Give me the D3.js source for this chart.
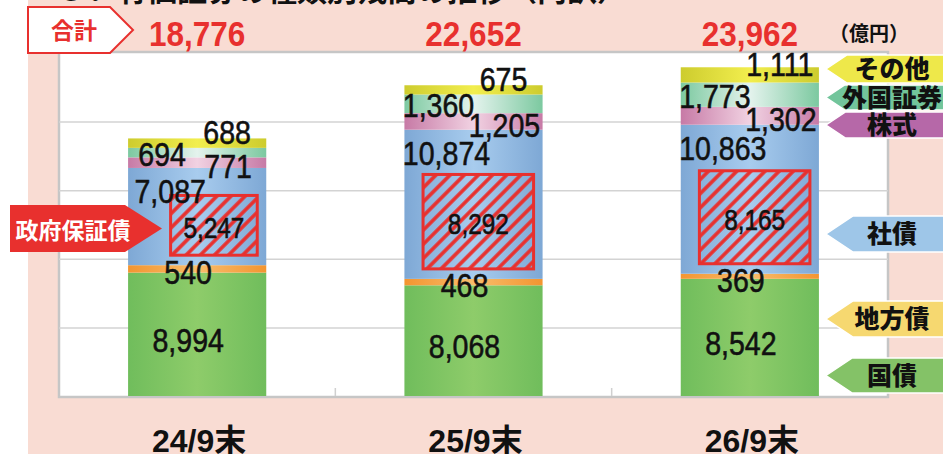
<!DOCTYPE html>
<html><head><meta charset="utf-8">
<script src="https://cdn.jsdelivr.net/npm/d3@7"></script>
<style>
html,body{margin:0;padding:0;background:#fff;}
svg{display:block;}
</style></head>
<body>
<svg id="c" width="943" height="454"></svg>
<script>
// ---------- data ----------
const categories = ["24/9末", "25/9末", "26/9末"];
const seriesNames = ["国債", "地方債", "社債", "株式", "外国証券", "その他"];
const kokusai   = [8994, 8068, 8542];
const chihousai = [540, 468, 369];
const shasai    = [7087, 10874, 10863];
const kabushiki = [771, 1205, 1302];
const gaikoku   = [694, 1360, 1773];
const sonota    = [688, 675, 1111];
const seifuHoshou = [5247, 8292, 8165];   // 政府保証債 (part of 社債)
const totals    = [18776, 22652, 23962];
const gridTicks = [5000, 10000, 15000, 20000];
const unitLabel = "（億円）";
const totalLabel = "合計";
const govLabel = "政府保証債";
const titleText = "５．有価証券の種類別残高の推移（内訳）";

// ---------- styling ----------
const seriesStyle = {
  "国債":   {edge:"#70bd5c", mid:"#8ecc6a", legend:"#84c267", dx:-9,  dy:5},
  "地方債": {edge:"#f39530", mid:"#f8bd6c", legend:"#f6d870", dx:-9,  dy:3},
  "社債":   {edge:"#7ea8d5", mid:"#a8ccee", legend:"#9ec6e8", dx:-27, top:23},
  "株式":   {edge:"#c77aa6", mid:"#f1d2e2", legend:"#b668a8", dx:31,  dy:3},
  "外国証券": {edge:"#7cc9a0", mid:"#e4f3ed", legend:"#72c59b", dx:-35, dy:1},
  "その他": {edge:"#cdcc2e", mid:"#f2ee4e", legend:"#eee84a", dx:30,  dy:-11}
};
const legendLayout = [
  {name:"その他", cy:69, h:28},
  {name:"外国証券", cy:97.5, h:25},
  {name:"株式", cy:125, h:26},
  {name:"社債", cy:234, h:36},
  {name:"地方債", cy:319, h:36},
  {name:"国債", cy:375.5, h:35}
];
const RED = "#e8302e";
const NUMFONT = "'Liberation Sans', Arial, sans-serif";
const JPFONT = "'Noto Sans CJK JP', 'Noto Sans', sans-serif";

const W = 943, H = 454;
const plot = {left:59, right:888, top:53, bottom:396};

const svg = d3.select("#c");
const defs = svg.append("defs");

// background
svg.append("rect").attr("x",28).attr("y",0).attr("width",W-28).attr("height",H).attr("fill","#f9dcd3");

// title (cut at top)
svg.append("text").attr("x",57).attr("y",1).attr("font-family",JPFONT).attr("font-weight",700)
  .attr("font-size",30).attr("fill","#111").text(titleText);

// plot frame
svg.append("rect").attr("x",plot.left).attr("y",plot.top-1).attr("width",plot.right-plot.left)
  .attr("height",plot.bottom-plot.top+2).attr("fill","#fff").attr("stroke","#c6c6c6").attr("stroke-width",2.5);

// scales
const x = d3.scaleBand().domain(categories).range([plot.left, plot.right]).paddingInner(0.5).paddingOuter(0.25);
const y = d3.scaleLinear().domain([0, 25000]).range([plot.bottom, plot.top]);

// gridlines
const grid = svg.append("g").attr("transform",`translate(${plot.left},0)`)
  .call(d3.axisLeft(y).tickValues(gridTicks).tickSize(-(plot.right-plot.left)).tickFormat(""));
grid.select(".domain").remove();
grid.selectAll("line").attr("stroke","#d3d3d3").attr("stroke-width",1.5);

// category separators at bottom
const sepG = svg.append("g");
categories.slice(0,-1).forEach((c)=>{
  const sx = x(c) + x.bandwidth() + (x.step()-x.bandwidth())/2;
  sepG.append("line").attr("x1",sx).attr("x2",sx).attr("y1",plot.bottom-8).attr("y2",plot.bottom)
    .attr("stroke","#d0d0d0").attr("stroke-width",1.5);
});

// gradients
seriesNames.forEach((s,i)=>{
  const g = defs.append("linearGradient").attr("id","g"+i).attr("x1",0).attr("x2",1).attr("y1",0).attr("y2",0);
  g.append("stop").attr("offset","0%").attr("stop-color",seriesStyle[s].edge);
  g.append("stop").attr("offset","50%").attr("stop-color",seriesStyle[s].mid);
  g.append("stop").attr("offset","100%").attr("stop-color",seriesStyle[s].edge);
});
// hatch
const pat = defs.append("pattern").attr("id","hatch").attr("patternUnits","userSpaceOnUse")
  .attr("width",10).attr("height",10).attr("patternTransform","rotate(45)");
pat.append("line").attr("x1",2).attr("x2",2).attr("y1",0).attr("y2",10).attr("stroke",RED).attr("stroke-width",3.6);

// stack
const seriesValues = [kokusai, chihousai, shasai, kabushiki, gaikoku, sonota];
const table = categories.map((c,i)=>{
  const row = {cat:c};
  seriesNames.forEach((s,j)=> row[s] = seriesValues[j][i]);
  return row;
});
const stacked = d3.stack().keys(seriesNames)(table);

const fmt = d3.format(",");

// bars
stacked.forEach((layer, li)=>{
  svg.append("g").selectAll("rect").data(layer).join("rect")
    .attr("x", d=>x(d.data.cat)).attr("width", x.bandwidth())
    .attr("y", d=>y(d[1])).attr("height", d=>y(d[0])-y(d[1]))
    .attr("fill", `url(#g${li})`);
});

// government-guaranteed boxes inside 社債
const shasaiLayer = stacked[seriesNames.indexOf("社債")];
const boxes = shasaiLayer.map((d,i)=>{
  const h = (y(0)-y(seifuHoshou[i]))*0.83;
  const bottom = y(d[0]) - 10;
  const right = x(d.data.cat) + x.bandwidth() - 9;
  const w = Math.min(x.bandwidth()*0.8, h*1.45);
  return {x:right-w, y:bottom-h, w, h, v:seifuHoshou[i]};
});
svg.append("g").selectAll("rect").data(boxes).join("rect")
  .attr("x",d=>d.x).attr("y",d=>d.y).attr("width",d=>d.w).attr("height",d=>d.h)
  .attr("fill","url(#hatch)").attr("stroke",RED).attr("stroke-width",3);

function numText(g, cx, cy, str, size, sx){
  g.append("text").attr("transform",`translate(${cx},${cy}) scale(${sx},1)`)
    .attr("text-anchor","middle").attr("y", size*0.36)
    .attr("font-family",NUMFONT).attr("font-size",size).attr("fill","#111")
    .attr("stroke","#111").attr("stroke-width",0.6).text(str);
}
const labG = svg.append("g");
boxes.forEach(b=> numText(labG, b.x+b.w/2, b.y+b.h/2+2, fmt(b.v), 29, 0.84));

// segment labels
stacked.forEach((layer, li)=>{
  const st = seriesStyle[seriesNames[li]];
  layer.forEach(d=>{
    const cx = x(d.data.cat) + x.bandwidth()/2 + st.dx;
    let cy;
    if (st.top !== undefined) cy = y(d[1]) + st.top;
    else cy = (y(d[0])+y(d[1]))/2 + st.dy;
    numText(labG, cx, cy, fmt(d[1]-d[0]), 34, 0.84);
  });
});

// totals
svg.append("g").selectAll("text").data(totals).join("text")
  .attr("transform",(d,i)=>`translate(${x(categories[i])+x.bandwidth()/2},46) scale(0.9,1)`)
  .attr("text-anchor","middle").attr("font-family",NUMFONT).attr("font-weight",700).attr("font-size",35)
  .attr("fill",RED).text(d=>fmt(d));

// unit
svg.append("text").attr("x",869).attr("y",41).attr("text-anchor","middle")
  .attr("font-family",JPFONT).attr("font-weight",700).attr("font-size",20).attr("fill","#111").text(unitLabel);

// 合計 box
svg.append("path").attr("d","M28,7 L110,7 L133,30 L110,53 L28,53 Z")
  .attr("fill","#fff").attr("stroke",RED).attr("stroke-width",2);
svg.append("text").attr("x",74).attr("y",39).attr("text-anchor","middle")
  .attr("font-family",JPFONT).attr("font-weight",700).attr("font-size",23).attr("fill",RED).text(totalLabel);

// 政府保証債 arrow
svg.append("path").attr("d","M10,205 L125,205 L162,228.5 L125,252 L10,252 Z").attr("fill",RED);
svg.append("text").attr("x",73).attr("y",239).attr("text-anchor","middle")
  .attr("font-family",JPFONT).attr("font-weight",700).attr("font-size",23).attr("fill","#fff").text(govLabel);

// x-axis labels
const xa = svg.append("g").attr("transform",`translate(0,452)`)
  .call(d3.axisBottom(x).tickSize(0).tickPadding(0));
xa.select(".domain").remove();
xa.selectAll("text").attr("dy",0).attr("y",0).attr("dx",2)
  .attr("font-family","'Liberation Sans', 'Noto Sans CJK JP', sans-serif").attr("font-weight",700)
  .attr("font-size",32).attr("fill","#111");

// legend arrows
const lg = svg.append("g");
legendLayout.forEach(it=>{
  const st = seriesStyle[it.name];
  const top = it.cy - it.h/2, bot = it.cy + it.h/2, head = it.h*0.75, px = 826;
  lg.append("path").attr("d",`M${px},${it.cy} L${px+head},${top} L${W+2},${top} L${W+2},${bot} L${px+head},${bot} Z`)
    .attr("fill",st.legend).attr("stroke","#fff").attr("stroke-width",1.5);
  lg.append("text").attr("x",892).attr("y",it.cy+9).attr("text-anchor","middle")
    .attr("font-family",JPFONT).attr("font-weight",900).attr("font-size",25).attr("fill","#111").text(it.name);
});
</script>
</body></html>
